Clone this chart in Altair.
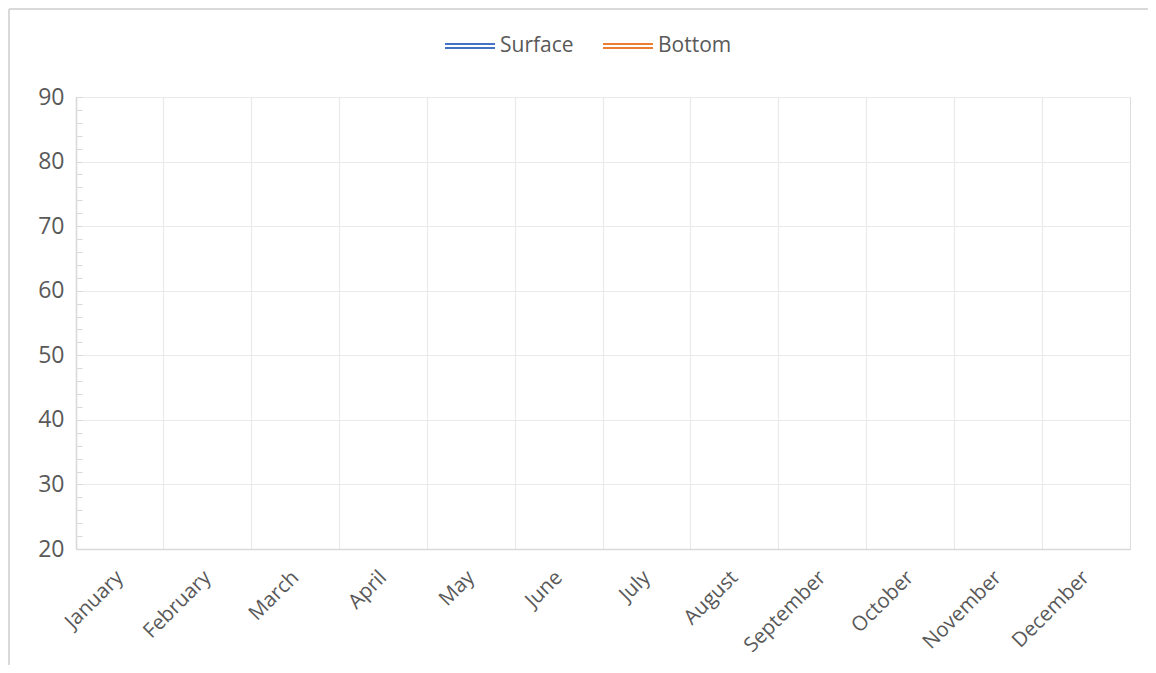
import altair as alt
import pandas as pd

months = ["January", "February", "March", "April", "May", "June", "July",
          "August", "September", "October", "November", "December"]
surface = [None] * 12
bottom = [None] * 12
series_names = ["Surface", "Bottom"]
series_colors = ["#4472C4", "#ED7D31"]
y_major = [20, 30, 40, 50, 60, 70, 80, 90]
y_minor = list(range(20, 91, 2))

rows = []
for m, s, b in zip(months, surface, bottom):
    rows.append({"month": m, "series": "Surface", "value": s})
    rows.append({"month": m, "series": "Bottom", "value": b})
df = pd.DataFrame(rows)

FONT = "Open Sans"
GRID = "#EAEAEA"
AXIS = "#D9D9D9"
TXT = "#595959"
W, H = 1054, 452

xscale = alt.Scale(type="band", domain=months, paddingInner=0, paddingOuter=0)
yscale = alt.Scale(domain=[20, 90], nice=False, zero=False)

lines = alt.Chart(df).mark_line(strokeWidth=2.25).encode(
    x=alt.X("month:N", scale=xscale, sort=months, title=None,
            axis=alt.Axis(orient="bottom", labelAngle=-45, labelAlign="right",
                          labelBaseline="middle", labelFontSize=20.5, labelColor=TXT,
                          labelFont=FONT, labelPadding=25, ticks=False, grid=False,
                          domainColor=AXIS, domainWidth=1.5)),
    y=alt.Y("value:Q", scale=yscale, title=None,
            axis=alt.Axis(orient="left", values=y_major, labelFontSize=23, labelColor=TXT,
                          labelFont=FONT, labelPadding=12, ticks=False, grid=True,
                          gridColor=GRID, gridWidth=1.2, domainColor=AXIS, domainWidth=1.5)),
    color=alt.Color("series:N", scale=alt.Scale(domain=series_names, range=series_colors),
                    legend=alt.Legend(title=None, orient="none", direction="horizontal",
                                      legendX=368, legendY=-77,
                                      symbolType="M-1,-0.08H1M-1,0.08H1",
                                      symbolSize=2500, symbolStrokeWidth=2,
                                      labelFontSize=21, labelColor=TXT, labelFont=FONT,
                                      labelOffset=4, columnPadding=25)),
)

grid_layer = alt.Chart(df).mark_line(opacity=0).encode(
    x=alt.X("month:N", scale=xscale, sort=months, title=None,
            axis=alt.Axis(orient="top", bandPosition=0, grid=True, gridColor=GRID,
                          gridWidth=1.2, labels=False, ticks=False, domain=False)),
)

minor_layer = alt.Chart(df).mark_line(opacity=0).encode(
    y=alt.Y("value:Q", scale=yscale, title=None,
            axis=alt.Axis(orient="right", offset=-W, values=y_minor, labels=False,
                          ticks=True, tickSize=6, tickColor=AXIS, tickWidth=1,
                          grid=False, domain=False)),
)

border_df = pd.DataFrame({"k": [0]})
border_left = alt.Chart(border_df).mark_rule(color="#D9D9D9", strokeWidth=2).encode(
    x=alt.value(-67), y=alt.value(-88), y2=alt.value(H + 200))
border_top = alt.Chart(border_df).mark_rule(color="#D9D9D9", strokeWidth=2).encode(
    x=alt.value(-67), x2=alt.value(W + 100), y=alt.value(-88))

chart = alt.layer(grid_layer, minor_layer, lines, border_left, border_top).resolve_axis(
    x="independent", y="independent"
).properties(
    width=W, height=H,
    autosize=alt.AutoSizeParams(type="none"),
    padding={"left": 68, "top": 89, "right": 18, "bottom": 116},
).configure_view(stroke=GRID, strokeWidth=1.2).configure(background="white")

chart.save("out.html", embed_options={"renderer": "svg", "actions": False})
